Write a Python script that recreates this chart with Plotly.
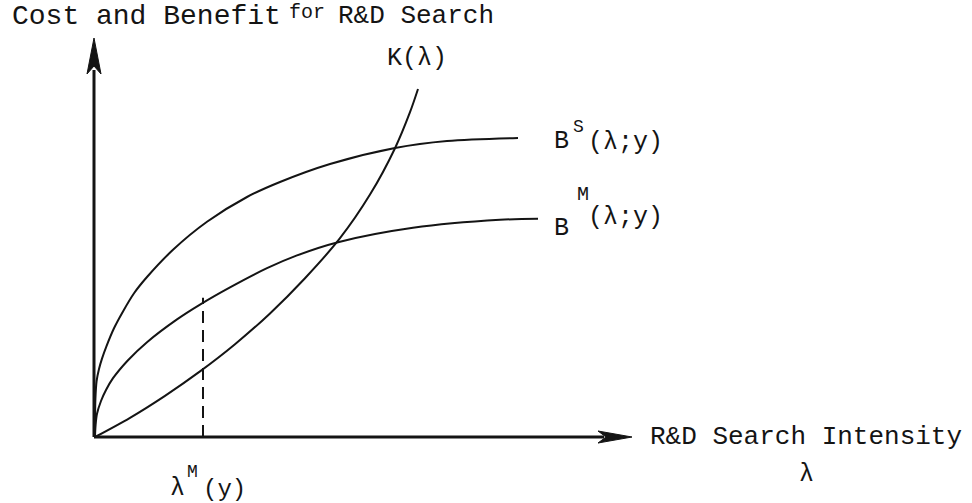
import plotly.graph_objects as go

# R&D search intensity (lambda) and the curves drawn against it
bs_lam = [0, 0.01, 0.04, 0.10, 0.175, 0.29, 0.475, 0.70, 0.98, 1.30, 1.95, 2.80,
          3.80, 4.625, 5.875, 7.50, 8.80, 10.575]
bs_val = [0, 0.95, 1.40, 1.70, 1.96, 2.28, 2.72, 3.14, 3.60, 4.00, 4.68, 5.38,
          6.00, 6.375, 6.825, 7.225, 7.40, 7.475]

bm_lam = [0, 0.015, 0.05, 0.15, 0.275, 0.45, 0.825, 1.30, 2.05, 2.625, 3.375, 4.30,
          5.05, 6.075, 7.95, 10.125, 11.075]
bm_val = [0, 0.30, 0.58, 0.90, 1.175, 1.47, 1.92, 2.37, 2.94, 3.31, 3.74, 4.22,
          4.54, 4.87, 5.23, 5.43, 5.455]

k_lam = [0, 0.875, 1.75, 2.625, 3.50, 4.375, 5.25, 6.125, 6.875, 7.50, 7.875, 8.075]
k_val = [0, 0.48, 1.03, 1.64, 2.32, 3.09, 3.97, 4.97, 6.06, 7.22, 8.12, 8.70]

# optimal intensity under the M regime
lam_m = 2.70
lam_m_top = 3.48

W, H = 972, 503
OX, OY, S = 95, 437, 40.0           # origin in pixels and pixels per unit
XR = [-OX / S, (W - OX) / S]
YR = [-(H - OY) / S, OY / S]


def px(x, y):
    """pixel position -> data coordinates"""
    return (x - OX) / S, (OY - y) / S


INK = "#141414"
FONT = "Liberation Mono"

fig = go.Figure()
line = dict(color=INK, width=2, shape="spline", smoothing=0.9)
for xs, ys in [(bs_lam, bs_val), (bm_lam, bm_val), (k_lam, k_val)]:
    fig.add_trace(go.Scatter(x=xs, y=ys, mode="lines", line=line,
                             hoverinfo="skip", showlegend=False))

fig.add_trace(go.Scatter(x=[lam_m, lam_m], y=[0, lam_m_top], mode="lines",
                         line=dict(color=INK, width=2, dash="12px,7px"),
                         hoverinfo="skip", showlegend=False))

shapes = []
# axes
x_tip = px(632, OY)[0]
y_tip = px(OX, 38)[1]
shapes.append(dict(type="line", x0=px(94, OY)[0], y0=0, x1=px(604, OY)[0], y1=0,
                   line=dict(color=INK, width=3)))
shapes.append(dict(type="line", x0=px(94, OY)[0], y0=0, x1=px(94, OY)[0], y1=px(94, 70)[1],
                   line=dict(color=INK, width=3)))
# arrow heads
ax0, ay0 = px(598, OY - 6)
ax1, ay1 = px(598, OY + 6)
shapes.append(dict(type="path", path=f"M {x_tip},0 L {ax0},{ay0} L {px(606, OY)[0]},0 L {ax1},{ay1} Z",
                   fillcolor=INK, line=dict(color=INK, width=1)))
bx0, by0 = px(87, 74)
bx1, by1 = px(101, 74)
shapes.append(dict(type="path",
                   path=f"M {px(94, 38)[0]},{y_tip} L {bx0},{by0} L {px(94, 66)[0]},{px(94, 66)[1]} L {bx1},{by1} Z",
                   fillcolor=INK, line=dict(color=INK, width=1)))

annotations = []


def label(text, x, y, size=25, anchor="left"):
    dx, dy = px(x, y)
    annotations.append(dict(text=text, x=dx, y=dy, xref="x", yref="y", showarrow=False,
                            xanchor=anchor, yanchor="middle",
                            font=dict(family=FONT, size=size, color=INK)))


# vertical axis title
label("Cost and Benefit", 10, 16, size=28)
label("for", 287, 12, size=20)
label("R&D Search", 336, 16, size=26)

# curve labels
label("K(λ)", 417, 58, anchor="center")
label("B", 552, 141)
label("S", 571, 127, size=18)
label("(λ;y)", 586, 142)
label("B", 552, 228)
label("M", 575, 194, size=20)
label("(λ;y)", 586, 217)

# horizontal axis title
label("R&D Search Intensity", 648, 437, size=26)
label("λ", 806, 474, anchor="center")

# marked intensity
label("λ", 177, 488, anchor="center")
label("M", 192, 472, size=18, anchor="center")
label("(y)", 201, 489, size=24)

fig.update_layout(
    width=W, height=H,
    margin=dict(l=0, r=0, t=0, b=0),
    paper_bgcolor="white", plot_bgcolor="white",
    xaxis=dict(range=XR, visible=False, fixedrange=True),
    yaxis=dict(range=YR, visible=False, fixedrange=True),
    shapes=shapes, annotations=annotations,
)

fig.write_html("out.html")
